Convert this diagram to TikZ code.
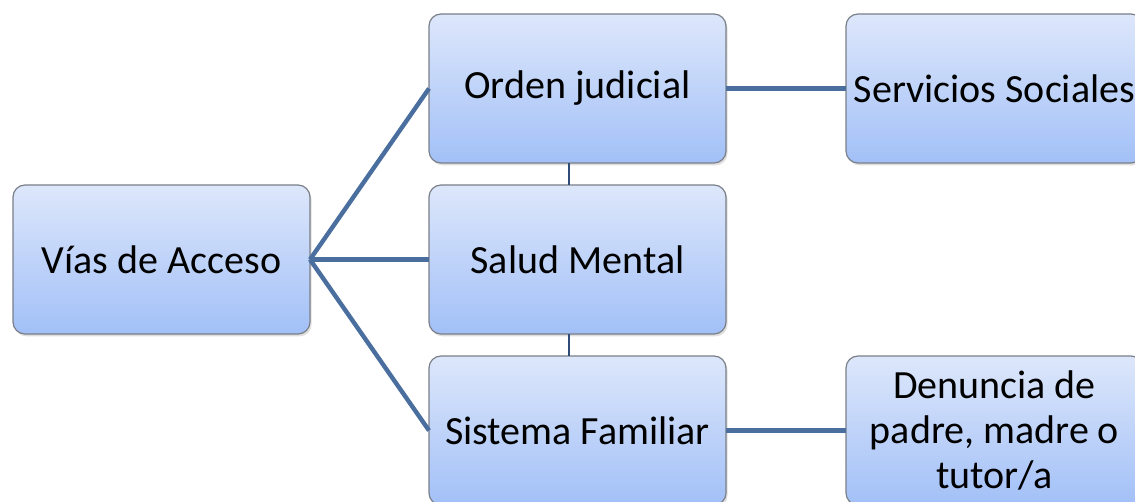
\documentclass[tikz,border=0pt]{standalone}
\usepackage{fontspec}
\setmainfont{Carlito}
\usetikzlibrary{positioning, shadows}
\definecolor{boxtop}{HTML}{DDE7FB}
\definecolor{boxbot}{HTML}{A2C0F7}
\definecolor{boxline}{HTML}{7A7F88}
\definecolor{linkblue}{HTML}{4A6E9E}
\definecolor{stackblue}{HTML}{2E4C78}
\tikzset{
	mapbox/.style={
		draw=boxline,
		line width=0.6pt,
		rounded corners=6pt,
		top color=boxtop,
		bottom color=boxbot,
		minimum width=148.5pt,
		minimum height=74.5pt,
		inner sep=2pt,
		outer sep=0pt,
		align=center,
		font=\fontsize{20}{22.5}\selectfont,
		drop shadow={opacity=0.25, shadow xshift=0.8pt, shadow yshift=-1.2pt}
	},
	link/.style={
		draw=linkblue,
		line width=2.2pt
	},
	stack/.style={
		draw=stackblue,
		line width=1.3pt
	}
}

\begin{document}
\begin{tikzpicture}
	\useasboundingbox (0,0) rectangle (567.5pt,-251pt);
	\begin{scope}[node distance=59.5pt]
	% root and the three access routes
	\node[mapbox] (vias) at (80.75pt,-129.75pt) {Vías de Acceso};
	\node[mapbox, right=of vias] (salud) {Salud Mental};
	\node[mapbox, above=11pt of salud] (orden) {Orden judicial};
	\node[mapbox, below=11pt of salud] (sistema) {Sistema Familiar};

	% second level
	\node[mapbox, right=60pt of orden] (servicios) {Servicios Sociales};
	\node[mapbox, right=60pt of sistema] (denuncia) {Denuncia de\\ padre, madre o\\ tutor/a};

	% branches
	\foreach \route in {orden, salud, sistema} {
		\draw[link] (vias.east) -- (\route.west);
	}
	\draw[link] (orden.east) -- (servicios.west);
	\draw[link] (sistema.east) -- (denuncia.west);

	% stacked boxes
	\draw[stack] ([xshift=-4.25pt]orden.south) -- ([xshift=-4.25pt]salud.north);
	\draw[stack] ([xshift=-4.25pt]salud.south) -- ([xshift=-4.25pt]sistema.north);
	\end{scope}
\end{tikzpicture}
\end{document}
